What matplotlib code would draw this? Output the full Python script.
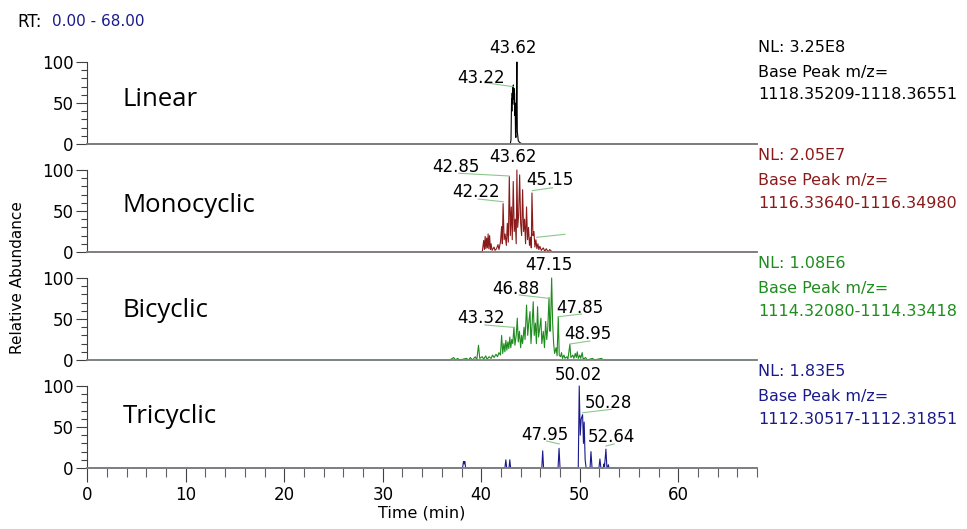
import matplotlib.pyplot as plt
from matplotlib.ticker import MultipleLocator

plt.rcParams['font.family'] = ['DejaVu Sans']

# chromatogram traces (time in min, relative abundance in %)
linear_t = [0, 42.95, 43.02, 43.05, 43.08, 43.11, 43.14, 43.17, 43.20, 43.23, 43.26,
            43.29, 43.32, 43.35, 43.38, 43.41, 43.44, 43.48, 43.52, 43.57, 43.62,
            43.66, 43.71, 43.76, 43.82, 43.90, 44.00, 44.20, 68]
linear_v = [0, 0, 5, 30, 55, 40, 62, 50, 70, 58, 72, 55, 68, 48, 62, 35, 50, 12, 8,
            45, 100, 15, 10, 4, 3, 2, 1, 0, 0]

mono_t = [0, 40.10, 40.25, 40.32, 40.40, 40.47, 40.55, 40.62, 40.70, 40.77, 40.85,
          40.93, 41.00, 41.10, 41.30, 41.40, 41.55, 41.70, 41.80, 41.95, 42.07, 42.14,
          42.22, 42.32, 42.42, 42.55, 42.65, 42.75, 42.85, 42.95, 43.05, 43.15, 43.25,
          43.35, 43.45, 43.55, 43.62, 43.70, 43.80, 43.90, 44.00, 44.10, 44.20, 44.30,
          44.40, 44.50, 44.60, 44.70, 44.80, 44.90, 45.00, 45.08, 45.15, 45.25, 45.35,
          45.45, 45.55, 45.65, 45.75, 45.85, 45.95, 46.10, 46.30, 46.45, 46.60, 46.80,
          46.95, 47.20, 68]
mono_v = [0, 0, 14, 3, 19, 4, 17, 5, 22, 4, 20, 3, 10, 2, 6, 2, 4, 9, 3, 12, 31, 10,
          59, 15, 22, 8, 35, 12, 92, 20, 55, 15, 86, 25, 40, 10, 100, 30, 45, 94, 35,
          20, 76, 25, 40, 10, 55, 15, 30, 8, 18, 5, 72, 20, 25, 6, 15, 4, 10, 3, 7, 2,
          5, 1, 4, 0, 3, 0, 0]

bi_t = [0, 36.8, 37.2, 37.4, 37.6, 37.8, 38.5, 38.7, 38.9, 39.1, 39.4, 39.55, 39.72,
        39.85, 40.1, 40.25, 40.45, 40.6, 40.8, 41.0, 41.15, 41.3, 41.5, 41.65, 41.8,
        41.95, 42.07, 42.18, 42.3, 42.4, 42.5, 42.6, 42.7, 42.8, 42.9, 43.0, 43.1,
        43.2, 43.32, 43.42, 43.55, 43.66, 43.76, 43.88, 44.0, 44.1, 44.2, 44.35,
        44.45, 44.6, 44.72, 44.82, 44.95, 45.05, 45.15, 45.28, 45.38, 45.5, 45.6,
        45.72, 45.82, 45.95, 46.06, 46.15, 46.3, 46.42, 46.54, 46.65, 46.76, 46.88,
        46.98, 47.05, 47.15, 47.25, 47.35, 47.45, 47.6, 47.7, 47.82, 47.92, 48.05,
        48.15, 48.25, 48.4, 48.5, 48.7, 48.8, 49.0, 49.1, 49.3, 49.4, 49.55, 49.65,
        49.75, 49.85, 50.0, 50.1, 50.25, 50.35, 50.6, 50.75, 51.3, 51.5, 52.2, 52.4, 68]
bi_v = [0, 0, 3, 0, 2, 0, 2, 0, 3, 0, 4, 0, 18, 2, 4, 1, 5, 1, 4, 2, 6, 3, 7, 4, 9,
        6, 30, 8, 20, 10, 24, 12, 22, 14, 28, 15, 25, 20, 40, 18, 30, 51, 22, 35, 15,
        30, 20, 40, 25, 67, 30, 45, 59, 20, 40, 71, 30, 45, 20, 65, 28, 40, 51, 20, 35,
        15, 47, 25, 40, 76, 35, 50, 100, 45, 20, 8, 15, 5, 53, 6, 4, 9, 2, 6, 2, 4, 1,
        19, 3, 6, 2, 8, 3, 10, 2, 6, 2, 9, 1, 3, 0, 2, 0, 2, 0, 0]

tri_t = [0, 38.10, 38.20, 38.27, 38.33, 38.42, 42.40, 42.50, 42.58, 42.82, 42.90,
         42.98, 46.15, 46.24, 46.33, 47.80, 47.90, 48.00, 49.85, 49.95, 50.05, 50.15,
         50.29, 50.38, 50.45, 50.55, 50.65, 51.05, 51.14, 51.25, 51.95, 52.05, 52.15,
         52.38, 52.46, 52.52, 52.66, 52.76, 52.85, 52.90, 52.98, 68]
tri_v = [0, 0, 8, 5, 8, 0, 0, 10, 0, 0, 10, 0, 0, 21, 0, 0, 24, 0, 0, 100, 40, 60,
         65, 30, 56, 10, 0, 0, 20, 0, 0, 11, 0, 0, 5, 2, 23, 0, 0, 4, 0, 0]

names = ['Linear', 'Monocyclic', 'Bicyclic', 'Tricyclic']
colors = ['#000000', '#8b1a1a', '#1e8c1e', '#1a1a8c']
nl_values = ['3.25E8', '2.05E7', '1.08E6', '1.83E5']
mz_ranges = ['1118.35209-1118.36551', '1116.33640-1116.34980',
             '1114.32080-1114.33418', '1112.30517-1112.31851']
traces = [(linear_t, linear_v), (mono_t, mono_v), (bi_t, bi_v), (tri_t, tri_v)]

# peak labels: text, label centre, leader line (None for top label)
peak_labels = [
    [('43.62', (43.25, 117), None),
     ('43.22', (40.0, 81), ((40.37, 74.8), (43.25, 69.9)))],
    [('43.62', (43.25, 116), None),
     ('42.85', (37.43, 104), ((37.73, 96.0), (42.84, 92.7))),
     ('42.22', (39.46, 73.5), ((39.7, 64.6), (42.23, 61.3))),
     ('45.15', (46.97, 88), ((45.18, 74.8), (47.25, 78.4))),
     ('', None, ((45.62, 17.9), (48.5, 21.6)))],
    [('47.15', (46.89, 116), None),
     ('46.88', (43.55, 86), ((43.86, 79.3), (46.87, 75.2))),
     ('47.85', (50.05, 64), ((47.82, 52.8), (50.19, 56.1))),
     ('48.95', (50.86, 32), ((49.0, 19.5), (51.03, 23.2))),
     ('43.32', (40.0, 51), ((40.37, 42.7), (43.19, 39.9)))],
    [('50.02', (49.85, 114), None),
     ('50.28', (52.93, 79), ((50.29, 67.4), (53.24, 71.6))),
     ('47.95', (46.42, 40), ((46.64, 32.9), (47.92, 29.3))),
     ('52.64', (53.2, 37.5), ((52.66, 26.8), (53.5, 29.3)))],
]
name_y = [54, 57, 60, 63]

fig = plt.figure(figsize=(9.67, 5.29), dpi=100)
left, width = 87.3 / 967, (757 - 87.3) / 967

for i in range(4):
    bottom = (529 - 144 - 108 * i) / 529
    ax = fig.add_axes([left, bottom, width, 82 / 529])
    t, v = traces[i]
    ax.plot(t, v, color=colors[i], lw=0.8, clip_on=False)
    ax.set_xlim(0, 68)
    ax.set_ylim(0, 100)
    for s in ['top', 'right']:
        ax.spines[s].set_visible(False)
    ax.spines['bottom'].set_color('#808080')
    ax.spines['bottom'].set_linewidth(1.3)
    ax.spines['left'].set_color('#404040')
    ax.set_yticks([0, 50, 100])
    ax.yaxis.set_minor_locator(MultipleLocator(10))
    ax.tick_params(axis='y', which='major', length=8, width=0.8, color='#404040',
                   labelsize=12, pad=2)
    ax.tick_params(axis='y', which='minor', length=4, width=0.8, color='#404040')
    if i < 3:
        ax.set_xticks([])
    else:
        ax.set_xticks(range(0, 70, 10))
        ax.xaxis.set_minor_locator(MultipleLocator(2))
        ax.tick_params(axis='x', which='major', length=10, width=0.8, color='#404040',
                       labelsize=12, pad=3)
        ax.tick_params(axis='x', which='minor', length=6.5, width=0.8, color='#606060')
        ax.set_xlabel('Time (min)', fontsize=11.5, labelpad=1)

    ax.text(3.6, name_y[i], names[i], fontsize=18.5, family=['Open Sans', 'DejaVu Sans'],
            va='center', ha='left')

    for txt, pos, line in peak_labels[i]:
        if line is not None:
            ax.plot([line[0][0], line[1][0]], [line[0][1], line[1][1]],
                    color='#8cc88c', lw=0.8, clip_on=False)
        if pos is not None:
            ax.text(pos[0], pos[1], txt, fontsize=12, ha='center', va='center',
                    clip_on=False)

    # right-hand info text
    ytop = 62 + 108 * i
    fig.text(758 / 967, 1 - (ytop - 15) / 529, 'NL: ' + nl_values[i],
             color=colors[i], fontsize=11.5, va='center', ha='left')
    fig.text(758 / 967, 1 - (ytop + 11) / 529, 'Base Peak m/z=',
             color=colors[i], fontsize=11.5, va='center', ha='left')
    fig.text(758 / 967, 1 - (ytop + 33) / 529, mz_ranges[i],
             color=colors[i], fontsize=11.5, va='center', ha='left')

fig.text(17 / 967, 1 - 22 / 529, 'RT:', fontsize=12, va='center', ha='left')
fig.text(52 / 967, 1 - 22 / 529, '0.00 - 68.00', fontsize=11, va='center',
         ha='left', color='#1a1a8c')
fig.text(18 / 967, 1 - 278 / 529, 'Relative Abundance', fontsize=11, rotation=90,
         va='center', ha='center')

fig.savefig('out.png', dpi=100)
